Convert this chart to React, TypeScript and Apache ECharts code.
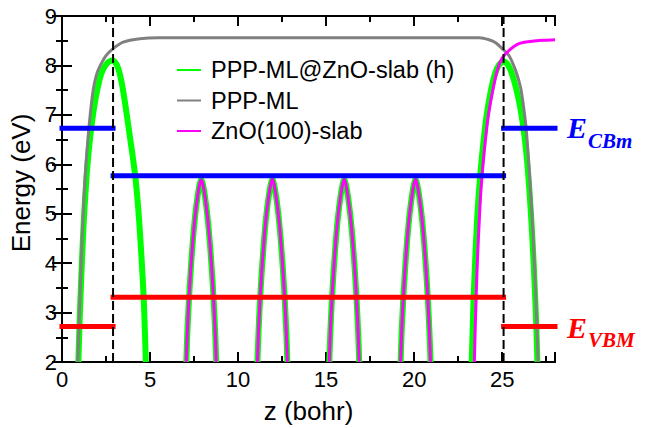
import React, { useEffect, useRef } from 'react';
import * as echarts from 'echarts';

type P = [number, number];

// Green: PPP-ML@ZnO-slab (h)
const hybridLeftPeak: P[] = [
  [0.93, 2], [0.99, 2.7], [1.06, 3.4], [1.14, 4.1], [1.23, 4.8], [1.33, 5.4], [1.45, 6.0],
  [1.6, 6.55], [1.78, 7.05], [2.0, 7.5], [2.25, 7.85], [2.55, 8.04], [2.87, 8.1], [3.1, 8.02],
  [3.3, 7.8], [3.48, 7.47], [3.66, 7.05], [3.84, 6.6], [4.02, 6.15], [4.18, 5.7], [4.32, 5.15],
  [4.44, 4.55], [4.55, 3.9], [4.64, 3.3], [4.71, 2.6], [4.76, 2],
];
const peak1: P[] = [
  [7.06, 2], [7.12, 2.6], [7.2, 3.2], [7.3, 3.8], [7.42, 4.4], [7.56, 4.95], [7.7, 5.35], [7.82, 5.6],
  [7.91, 5.68], [8.0, 5.6], [8.12, 5.35], [8.26, 4.95], [8.4, 4.4], [8.52, 3.8], [8.62, 3.2], [8.7, 2.6], [8.76, 2],
];
const peak2: P[] = [
  [11.1, 2], [11.16, 2.6], [11.24, 3.2], [11.34, 3.8], [11.46, 4.4], [11.6, 4.95], [11.74, 5.35], [11.86, 5.6],
  [11.95, 5.7], [12.04, 5.6], [12.16, 5.35], [12.3, 4.95], [12.44, 4.4], [12.56, 3.8], [12.66, 3.2], [12.74, 2.6], [12.8, 2],
];
const peak3: P[] = [
  [15.18, 2], [15.24, 2.6], [15.32, 3.2], [15.42, 3.8], [15.54, 4.4], [15.68, 4.95], [15.82, 5.35], [15.94, 5.6],
  [16.03, 5.69], [16.12, 5.6], [16.24, 5.35], [16.38, 4.95], [16.52, 4.4], [16.64, 3.8], [16.74, 3.2], [16.82, 2.6], [16.88, 2],
];
const peak4: P[] = [
  [19.23, 2], [19.29, 2.6], [19.37, 3.2], [19.47, 3.8], [19.59, 4.4], [19.73, 4.95], [19.87, 5.35], [19.99, 5.6],
  [20.08, 5.69], [20.17, 5.6], [20.29, 5.35], [20.43, 4.95], [20.57, 4.4], [20.69, 3.8], [20.79, 3.2], [20.87, 2.6], [20.93, 2],
];
const hybridRightPeak: P[] = [
  [23.27, 2], [23.32, 2.6], [23.38, 3.3], [23.46, 4.0], [23.55, 4.7], [23.65, 5.3], [23.77, 5.85],
  [23.92, 6.4], [24.1, 6.95], [24.32, 7.42], [24.55, 7.78], [24.8, 8.0], [25.08, 8.08], [25.35, 8.0],
  [25.6, 7.78], [25.85, 7.45], [26.05, 7.1], [26.22, 6.7], [26.38, 6.2], [26.52, 5.6], [26.65, 4.9],
  [26.76, 4.2], [26.85, 3.5], [26.93, 2.8], [27.0, 2],
];

// Gray: PPP-ML
const pppMl: P[] = [
  [0.9, 2], [0.96, 2.7], [1.03, 3.4], [1.1, 4.1], [1.18, 4.8], [1.26, 5.4], [1.36, 6.0], [1.47, 6.5],
  [1.6, 7.0], [1.77, 7.5], [1.95, 7.8], [2.15, 7.98], [2.5, 8.2], [2.87, 8.33], [3.47, 8.47], [4.42, 8.54],
  [5.5, 8.56], [23.7, 8.56], [24.25, 8.52], [24.63, 8.46], [25.0, 8.34], [25.38, 8.2], [25.76, 7.9],
  [26.04, 7.56], [26.2, 7.2], [26.36, 6.73], [26.55, 5.8], [26.75, 4.6], [26.9, 3.4], [26.98, 2.6], [27.04, 2],
];

// Magenta: ZnO(100)-slab (inner peaks coincide with the green ones)
const znoRight: P[] = [
  [23.42, 2], [23.47, 2.7], [23.53, 3.4], [23.6, 4.1], [23.69, 4.8], [23.78, 5.4], [23.9, 5.95],
  [24.05, 6.5], [24.22, 7.0], [24.43, 7.43], [24.72, 7.9], [25.0, 8.15], [25.38, 8.3], [25.95, 8.44],
  [26.7, 8.49], [27.4, 8.51], [28, 8.52],
];

// Band edges
const interfaces = [2.9, 25.08];
const cbmOuter = 6.73;
const cbmInner = 5.77;
const vbmOuter = 2.72;
const vbmInner = 3.31;
const xRange = [0, 28];
const yRange = [2, 9];

const FONT = 'Liberation Sans';
const GREEN = '#00ff00';
const GRAY = '#808080';
const MAGENTA = '#ff00ff';
const BLUE = '#0000ff';
const RED = '#ff0000';

const NAME_H = 'PPP-ML@ZnO-slab (h)';
const NAME_P = 'PPP-ML';
const NAME_Z = 'ZnO(100)-slab';

function curve(name: string, data: P[], color: string, width: number) {
  return {
    type: 'line', name, data, symbol: 'none', showSymbol: false, smooth: 0.3,
    color, lineStyle: { color, width, join: 'round' }, silent: true,
  };
}
function hline(data: P[], color: string) {
  return {
    type: 'line', data, symbol: 'none', showSymbol: false, clip: false, color, silent: true,
    lineStyle: { color, width: 5, cap: 'square' },
  };
}

export default function App() {
  const ref = useRef<HTMLDivElement>(null);
  useEffect(() => {
    if (!ref.current) return;
    const chart = echarts.init(ref.current, undefined, { renderer: 'svg' });
    const axisLine = { show: true, lineStyle: { color: '#000', width: 2 } };
    const xBase = { type: 'value', min: xRange[0], max: xRange[1], splitLine: { show: false }, axisLine };
    const tick = (len: number) => ({ show: true, inside: true, length: len, lineStyle: { color: '#000', width: 2 } });
    const yBase = {
      type: 'value', min: yRange[0], max: yRange[1], interval: 1, splitLine: { show: false }, axisLine,
      axisTick: tick(10),
      minorTick: { show: true, splitNumber: 2, length: 6, lineStyle: { color: '#000', width: 2 } },
    };
    const series: any[] = [
      curve(NAME_H, hybridLeftPeak, GREEN, 6),
      curve(NAME_H, peak1, GREEN, 6),
      curve(NAME_H, peak2, GREEN, 6),
      curve(NAME_H, peak3, GREEN, 6),
      curve(NAME_H, peak4, GREEN, 6),
      curve(NAME_H, hybridRightPeak, GREEN, 6),
      curve(NAME_P, pppMl, GRAY, 3),
      curve(NAME_Z, peak1, MAGENTA, 3),
      curve(NAME_Z, peak2, MAGENTA, 3),
      curve(NAME_Z, peak3, MAGENTA, 3),
      curve(NAME_Z, peak4, MAGENTA, 3),
      curve(NAME_Z, znoRight, MAGENTA, 3),
      hline([[xRange[0], cbmOuter], [interfaces[0], cbmOuter]], BLUE),
      hline([[interfaces[0], cbmInner], [interfaces[1], cbmInner]], BLUE),
      hline([[interfaces[1], cbmOuter], [xRange[1], cbmOuter]], BLUE),
      hline([[xRange[0], vbmOuter], [interfaces[0], vbmOuter]], RED),
      hline([[interfaces[0], vbmInner], [interfaces[1], vbmInner]], RED),
      hline([[interfaces[1], vbmOuter], [xRange[1], vbmOuter]], RED),
      ...interfaces.map((x) => ({
        type: 'line', data: [[x, yRange[0]], [x, yRange[1]]], symbol: 'none', silent: true,
        lineStyle: { color: '#000', width: 2, type: [9, 4] }, color: '#000',
      })),
    ];
    chart.setOption({
      animation: false,
      grid: { left: 62, right: 92, top: 16, bottom: 66, containLabel: false, outerBoundsMode: 'none' },
      legend: {
        orient: 'vertical', left: 176, top: 58, itemWidth: 24, itemHeight: 14, itemGap: 6.5, padding: 0,
        selectedMode: false,
        itemStyle: { opacity: 0 },
        textStyle: { fontFamily: FONT, fontSize: 23.5, color: '#000', lineHeight: 24, padding: [0, 0, 0, 5] },
        data: [NAME_H, NAME_P, NAME_Z],
      },
      xAxis: [
        {
          ...xBase, position: 'bottom', interval: 5, axisTick: tick(10),
          axisLabel: {
            fontFamily: FONT, fontSize: 22, color: '#000', margin: 6,
            formatter: (v: number) => (v % 5 === 0 ? String(v) : ''),
          },
          name: 'z (bohr)', nameLocation: 'middle', nameGap: 36,
          nameTextStyle: { fontFamily: FONT, fontSize: 26, color: '#000' },
        },
        { ...xBase, position: 'bottom', interval: 2.5, axisTick: tick(6), axisLabel: { show: false } },
        { ...xBase, position: 'top', interval: 5, axisTick: tick(10), axisLabel: { show: false } },
        { ...xBase, position: 'top', interval: 2.5, axisTick: tick(6), axisLabel: { show: false } },
      ],
      yAxis: [
        {
          ...yBase, position: 'left',
          axisLabel: { fontFamily: FONT, fontSize: 22, color: '#000', margin: 5 },
          name: 'Energy (eV)', nameLocation: 'middle', nameRotate: 90, nameGap: 28,
          nameTextStyle: { fontFamily: FONT, fontSize: 26, color: '#000', padding: [0, 0, 0, 12] },
        },
        { ...yBase, position: 'right', axisLabel: { show: false } },
      ],
      graphic: [
        { type: 'text', x: 567, y: 127, style: { text: 'E', fontSize: 30, fontFamily: 'Liberation Serif', fontStyle: 'italic', fontWeight: 'bold', fill: BLUE, verticalAlign: 'middle' } },
        { type: 'text', x: 588, y: 141, style: { text: 'CBm', fontSize: 21, fontFamily: 'Liberation Serif', fontStyle: 'italic', fontWeight: 'bold', fill: BLUE, verticalAlign: 'middle' } },
        { type: 'text', x: 567, y: 327, style: { text: 'E', fontSize: 30, fontFamily: 'Liberation Serif', fontStyle: 'italic', fontWeight: 'bold', fill: RED, verticalAlign: 'middle' } },
        { type: 'text', x: 588, y: 340, style: { text: 'VBM', fontSize: 21, fontFamily: 'Liberation Serif', fontStyle: 'italic', fontWeight: 'bold', fill: RED, verticalAlign: 'middle' } },
      ],
      series,
    });
    return () => chart.dispose();
  }, []);
  return <div ref={ref} style={{ position: 'absolute', left: 0, top: 0, width: 647, height: 428 }} />;
}
